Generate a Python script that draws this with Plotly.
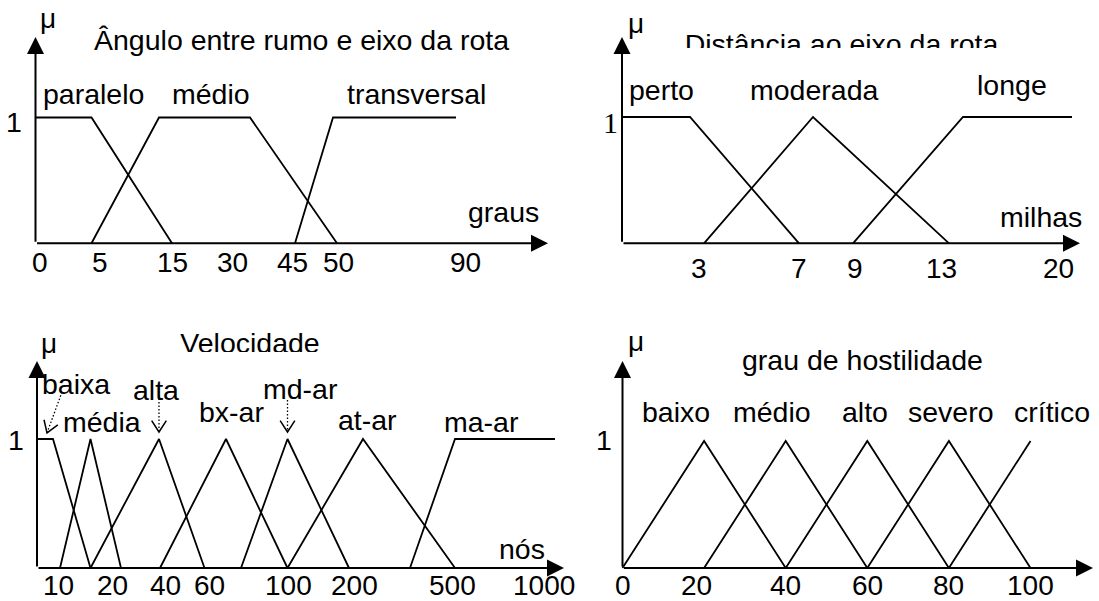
import math
import plotly.graph_objects as go

W, H = 1099, 601
SANS = "Liberation Sans, Arial, Helvetica, sans-serif"
SERIF = "Liberation Serif, Times New Roman, serif"
TXT = 28.5
TICK_TXT = 28
MU_SIZE = 28
INK = "black"
LW = 1.8

# ---------------- Ângulo entre rumo e eixo da rota (schematic x axis) ----------------
ANG_TITLE = "Ângulo entre rumo e eixo da rota"
ANG_UNIT = "graus"
ANG_TICK_TEXT = ["0", "5", "15", "30", "45", "50", "90"]
ANG_TICK_POS = [4.5, 64, 136.5, 196.5, 256.5, 302.5, 429.5]
ANG_PARALELO_X = [0, 56, 136.5]
ANG_PARALELO_MU = [1, 1, 0]
ANG_MEDIO_X = [56, 123.5, 214.5, 301.5]
ANG_MEDIO_MU = [0, 1, 1, 0]
ANG_TRANSVERSAL_X = [259.5, 297.5, 420.5]
ANG_TRANSVERSAL_MU = [0, 1, 1]

# ---------------- Distância ao eixo da rota (schematic x axis) ----------------
DIST_TITLE = "Distância ao eixo da rota"
DIST_UNIT = "milhas"
DIST_TICK_TEXT = ["3", "7", "9", "13", "20"]
DIST_TICK_POS = [77, 177, 233, 319, 436]
DIST_PERTO_X = [0, 68, 177]
DIST_PERTO_MU = [1, 1, 0]
DIST_MODERADA_X = [82, 191, 327]
DIST_MODERADA_MU = [0, 1, 0]
DIST_LONGE_X = [231, 341, 450]
DIST_LONGE_MU = [0, 1, 1]

# ---------------- Velocidade (schematic x axis) ----------------
VEL_TITLE = "Velocidade"
VEL_UNIT = "nós"
VEL_TICK_TEXT = ["10", "20", "40", "60", "100", "200", "500", "1000"]
VEL_TICK_POS = [21, 75, 128, 172, 251, 317, 415, 507]
VEL_BAIXA_X = [0, 16, 53.5]
VEL_BAIXA_MU = [1, 1, 0]
VEL_MEDIA_X = [23, 53.5, 84]
VEL_ALTA_X = [53.5, 122, 167.5]
VEL_BXAR_X = [123, 189, 250.5]
VEL_MDAR_X = [204, 250.5, 312]
VEL_ATAR_X = [250.5, 326, 418]
VEL_MAAR_X = [373, 418, 518]
VEL_MAAR_MU = [0, 1, 1]
TRIANGLE_MU = [0, 1, 0]
# dotted pointers from a label down to its set
VEL_POINTER_FROM_X = [25, 122, 250.5]
VEL_POINTER_FROM_MU = [1.364, 1.395, 1.302]
VEL_POINTER_TO_X = [10, 122, 250.5]
VEL_POINTER_TO_MU = [1.047, 1.054, 1.054]

# ---------------- grau de hostilidade (linear x axis) ----------------
HOST_TITLE = "grau de hostilidade"
HOST_TICKS = [0, 20, 40, 60, 80, 100]
HOST_BAIXO_X = [0, 20, 40]
HOST_MEDIO_X = [20, 40, 60]
HOST_ALTO_X = [40, 60, 80]
HOST_SEVERO_X = [60, 80, 100]
HOST_CRITICO_X = [80, 100]
HOST_CRITICO_MU = [0, 1]

# panel geometry in pixels: origin x, arrow tip x, base y, mu=1 y, arrow tip y, px per x unit,
# and the box (left, right, top, bottom) each subplot occupies on the page
GEOM = {
    1: dict(ox=35.5, tx=552, by=243.3, oy=117.5, ty=33, ppx=1.0, box=(0, 560, 0, 300)),
    2: dict(ox=622, tx=1084, by=243.3, oy=117, ty=33, ppx=1.0, box=(580, 1099, 0, 300)),
    3: dict(ox=37, tx=568, by=568, oy=439, ty=357, ppx=1.0, box=(0, 580, 315, 601)),
    4: dict(ox=622.5, tx=1097, by=568, oy=441, ty=357, ppx=4.08, box=(585, 1099, 315, 601)),
}


def refs(i):
    s = "" if i == 1 else str(i)
    return "x" + s, "y" + s


def px_per_mu(i):
    g = GEOM[i]
    return g["by"] - g["oy"]


def x_end(i):
    g = GEOM[i]
    return (g["tx"] - g["ox"]) / g["ppx"]


def y_end(i):
    g = GEOM[i]
    return (g["by"] - g["ty"]) / px_per_mu(i)


fig = go.Figure()


def curve(i, xs, mus, dash=None, width=LW):
    xr, yr = refs(i)
    fig.add_trace(go.Scatter(
        x=xs, y=mus, mode="lines", xaxis=xr, yaxis=yr,
        line=dict(color=INK, width=width, dash=dash),
        showlegend=False, hoverinfo="skip"))


annotations = []


def label(i, text, x, y, size=TXT, family=SANS, **kw):
    xr, yr = refs(i)
    annotations.append(dict(
        xref=xr, yref=yr, x=x, y=y, text=text, showarrow=False,
        font=dict(family=family, size=size, color=INK),
        xanchor="center", yanchor="middle", **kw))


def clipped_title(i, text, x, y):
    xr, yr = refs(i)
    fig.add_trace(go.Scatter(
        x=[x], y=[y], mode="text", text=[text], textposition="middle center",
        textfont=dict(family=SANS, size=TXT, color=INK), cliponaxis=False,
        xaxis=xr, yaxis=yr, showlegend=False, hoverinfo="skip"))


# membership functions
curve(1, ANG_PARALELO_X, ANG_PARALELO_MU)
curve(1, ANG_MEDIO_X, ANG_MEDIO_MU)
curve(1, ANG_TRANSVERSAL_X, ANG_TRANSVERSAL_MU)

curve(2, DIST_PERTO_X, DIST_PERTO_MU)
curve(2, DIST_MODERADA_X, DIST_MODERADA_MU)
curve(2, DIST_LONGE_X, DIST_LONGE_MU)

curve(3, VEL_BAIXA_X, VEL_BAIXA_MU)
for xs in (VEL_MEDIA_X, VEL_ALTA_X, VEL_BXAR_X, VEL_MDAR_X, VEL_ATAR_X):
    curve(3, xs, TRIANGLE_MU)
curve(3, VEL_MAAR_X, VEL_MAAR_MU)

for xs in (HOST_BAIXO_X, HOST_MEDIO_X, HOST_ALTO_X, HOST_SEVERO_X):
    curve(4, xs, TRIANGLE_MU)
curve(4, HOST_CRITICO_X, HOST_CRITICO_MU)


# dotted pointers with an open V head
def v_head(x0, y0, x1, y1, sx, sy, arm=13.5, half=math.radians(33)):
    dx, dy = (x0 - x1) * sx, (y0 - y1) * sy
    n = math.hypot(dx, dy)
    ux, uy = dx / n, dy / n
    xs, ys = [], []
    for k, s in enumerate((1, -1)):
        c, sn = math.cos(s * half), math.sin(s * half)
        rx, ry = ux * c - uy * sn, ux * sn + uy * c
        xs.append(x1 + arm * rx / sx)
        ys.append(y1 + arm * ry / sy)
        if k == 0:
            xs.append(x1)
            ys.append(y1)
    return xs, ys


for fx, fm, tx, tm in zip(VEL_POINTER_FROM_X, VEL_POINTER_FROM_MU, VEL_POINTER_TO_X, VEL_POINTER_TO_MU):
    curve(3, [fx, tx], [fm, tm], dash="1.5px,2px", width=1.3)
    hx, hy = v_head(fx, fm, tx, tm, GEOM[3]["ppx"], px_per_mu(3))
    curve(3, hx, hy, width=1.5)

# axes drawn as arrows from the origin
for i in GEOM:
    xr, yr = refs(i)
    for (x, y) in ((x_end(i), 0), (0, y_end(i))):
        annotations.append(dict(
            xref=xr, yref=yr, axref=xr, ayref=yr, x=x, y=y, ax=0, ay=0,
            text="", showarrow=True, arrowhead=2, arrowsize=1.7, arrowwidth=2,
            arrowcolor=INK, standoff=4))

# panel 1 texts
label(1, ANG_TITLE, 265.5, 1.614)
for name, x in zip(["paralelo", "médio", "transversal"], [57.5, 175, 381]):
    label(1, name, x, 1.187)
label(1, ANG_UNIT, 467.5, 0.249)
label(1, "μ", 12.5, 1.785, size=MU_SIZE)
label(1, "1", -22, 0.964)
for t, x in zip(ANG_TICK_TEXT, ANG_TICK_POS):
    label(1, t, x, 0, size=TICK_TXT, yshift=-19)

# panel 2 texts
clipped_title(2, DIST_TITLE, 219.5, 1.559)
label(2, "perto", 39, 1.211)
label(2, "moderada", 192, 1.211)
label(2, "longe", 390, 1.257)
label(2, DIST_UNIT, 419, 0.208)
label(2, "μ", 14, 1.738, size=MU_SIZE)
label(2, "1", -12, 0.956, size=30, family=SERIF)
for t, x in zip(DIST_TICK_TEXT, DIST_TICK_POS):
    label(2, t, x, 0, size=TICK_TXT, yshift=-25)

# panel 3 texts
clipped_title(3, VEL_TITLE, 213, 1.720)
for name, x, y in zip(["baixa", "alta", "média", "bx-ar", "md-ar", "at-ar", "ma-ar"],
                      [39, 119, 65, 194, 263, 330, 444],
                      [1.429, 1.378, 1.132, 1.209, 1.391, 1.145, 1.132]):
    label(3, name, x, y)
label(3, VEL_UNIT, 485, 0.150)
label(3, "μ", 12, 1.738, size=MU_SIZE)
label(3, "1", -21, 0.99)
for t, x in zip(VEL_TICK_TEXT, VEL_TICK_POS):
    label(3, t, x, 0, size=TICK_TXT, yshift=-17.5)

# panel 4 texts
label(4, HOST_TITLE, 58.7, 1.635)
for name, x in zip(["baixo", "médio", "alto", "severo", "crítico"],
                   [13.1, 36.6, 59.4, 80.5, 105.3]):
    label(4, name, x, 1.228)
label(4, "μ", 3.3, 1.781, size=MU_SIZE)
label(4, "1", -4.5, 1.006)
for v in HOST_TICKS:
    label(4, str(v), v, 0, size=TICK_TXT, yshift=-17.5, xshift=-8 if v == 20 else 0)

# axes layout: each subplot spans its page box, ranges keep the pixel scale above
for i, g in GEOM.items():
    s = "" if i == 1 else str(i)
    left, right, top, bottom = g["box"]
    pm = px_per_mu(i)
    fig.layout["xaxis" + s] = dict(
        domain=[left / W, right / W],
        range=[(left - g["ox"]) / g["ppx"], (right - g["ox"]) / g["ppx"]],
        visible=False, anchor="y" + s, fixedrange=True)
    fig.layout["yaxis" + s] = dict(
        domain=[1 - bottom / H, 1 - top / H],
        range=[(g["by"] - bottom) / pm, (g["by"] - top) / pm],
        visible=False, anchor="x" + s, fixedrange=True)

# the two header lines are cut off along their lower edge
shapes = [
    dict(type="rect", xref="paper", yref="paper", layer="above",
         x0=668 / W, x1=1012 / W, y0=1 - 62 / H, y1=1 - 48 / H,
         fillcolor="white", line=dict(width=0)),
    dict(type="rect", xref="paper", yref="paper", layer="above",
         x0=165 / W, x1=335 / W, y0=1 - 365 / H, y1=1 - 352 / H,
         fillcolor="white", line=dict(width=0)),
]

fig.update_layout(
    width=W, height=H, margin=dict(l=0, r=0, t=0, b=0),
    paper_bgcolor="white", plot_bgcolor="rgba(0,0,0,0)",
    font=dict(family=SANS, color=INK),
    annotations=annotations, shapes=shapes, showlegend=False)

fig.write_html("out.html", config={"displayModeBar": False})
